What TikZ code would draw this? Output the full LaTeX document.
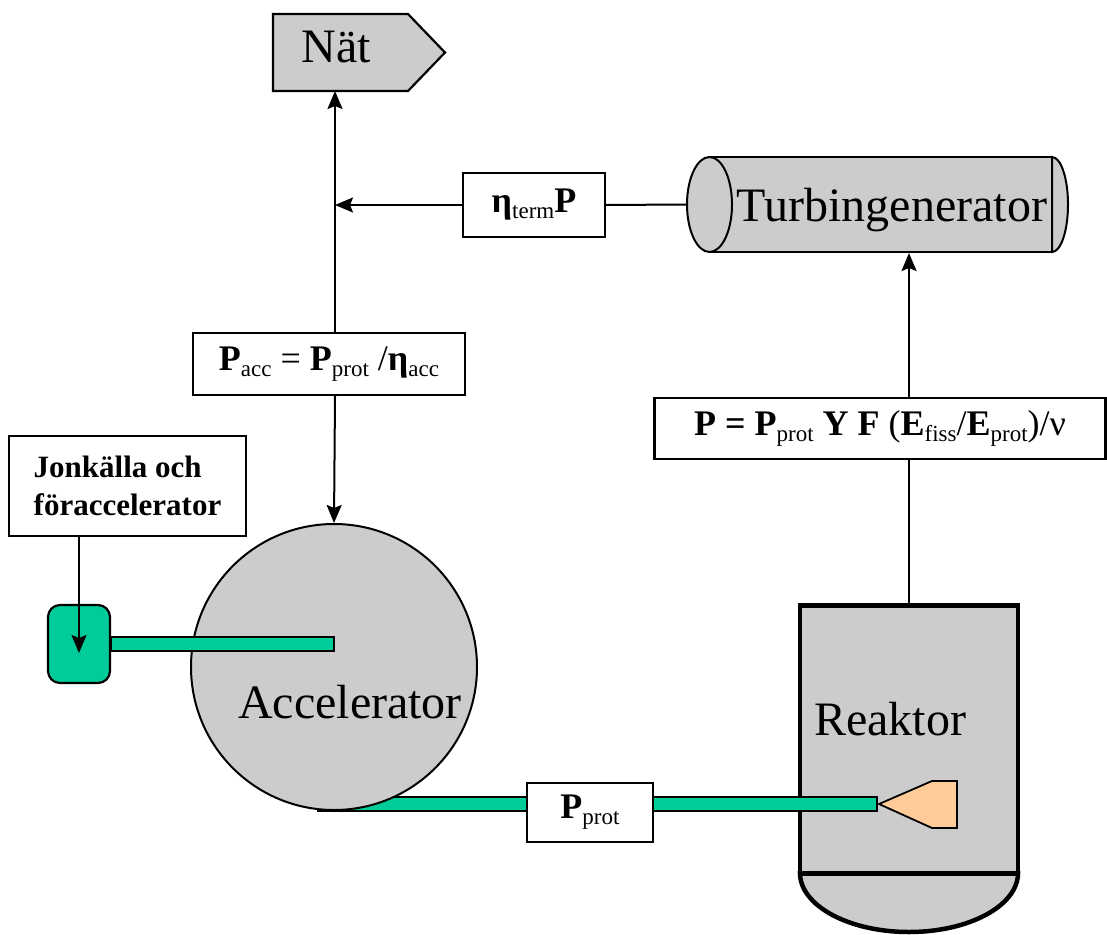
\documentclass[tikz,border=0pt]{standalone}
\usepackage{fontspec}
\setmainfont{Liberation Serif}
\usetikzlibrary{arrows.meta,shapes.geometric}
\definecolor{grayfill}{HTML}{CCCCCC}
\definecolor{beamgreen}{HTML}{00CC99}
\definecolor{targorange}{HTML}{FFCC99}
\newcommand{\lsub}[1]{\raisebox{-6pt}{\fontsize{23}{23}\selectfont\mdseries #1}}
\tikzset{
  big/.style={font=\fontsize{48}{56}\selectfont},
  frm/.style={draw, line width=2.2pt, fill=white, inner sep=0pt, font=\fontsize{36}{40}\selectfont},
  conn/.style={line width=2pt},
  arr/.style={line width=2pt, -{Stealth[length=18pt,width=15pt,inset=3pt]}},
  beamst/.style={draw, line width=2pt, fill=beamgreen},
}
\begin{document}
\begin{tikzpicture}[x=1pt,y=-1pt]
\useasboundingbox (0,0) rectangle (1107,934);

% Nat
\draw[line width=2.2pt, fill=grayfill] (273,14) -- (408,14) -- (445,52.5) -- (408,91) -- (273,91) -- cycle;
\node[big, anchor=base] (nat) at (336,63) {Nät};
\coordinate (natS) at (335,91);

% boxes
\node[frm, minimum width=272, minimum height=62] (pacc) at (329,364) {\textbf{P}\lsub{acc} = \textbf{P}\lsub{prot} /\textbf{η}\lsub{acc}};
\node[frm, minimum width=142, minimum height=64] (eta) at (534,205) {\textbf{η}\lsub{term}\textbf{P}};
\node[frm, minimum width=451, minimum height=61] (pbox) at (880,428.5) {\textbf{P = P}\lsub{prot} \textbf{Y F} (\textbf{E}\lsub{fiss}/\textbf{E}\lsub{prot})/ν};

% turbine
\node[draw, line width=2pt, fill=grayfill, minimum width=342, minimum height=95, inner sep=0pt] (turb) at (881,204.5) {};
\draw[line width=2pt, fill=grayfill] (1052,157) arc[start angle=90, end angle=-90, x radius=16pt, y radius=47.5pt] -- cycle;
\node[ellipse, draw, line width=2pt, fill=grayfill, minimum width=45, minimum height=95, inner sep=0pt] (turbL) at (709.5,204.5) {};
\node[big, anchor=base] (turbtxt) at (892,221) {Turbingenerator};

% reactor
\draw[line width=4.5pt, fill=grayfill] (800,873) arc[start angle=180, end angle=360, x radius=109pt, y radius=59pt] -- cycle;
\node[draw, line width=4.5pt, fill=grayfill, minimum width=218, minimum height=268, inner sep=0pt] (reak) at (909,739.5) {};
\node[big, anchor=base] (reaktxt) at (890,735) {Reaktor};

% ion source box
\node[draw, line width=2.2pt, fill=white, minimum width=237, minimum height=100, inner sep=0pt, align=left, font=\fontsize{31}{38}\selectfont\bfseries] (jon) at (127.5,486) {Jonkälla och\\föraccelerator};

% bottom beam, accelerator, upper beam
\draw[beamst] (318,797) rectangle (877,811);
\node[circle, draw, line width=2pt, fill=grayfill, minimum size=286, inner sep=0pt] (acc) at (334,667) {};
\node[big, anchor=base] (acctxt) at (350,718) {Accelerator};
\node[draw, line width=2.2pt, fill=beamgreen, rounded corners=12pt, minimum width=62, minimum height=78, inner sep=0pt] (src) at (79,644) {};
\draw[beamst] (src.east |- 0,637) rectangle (334,651);
\node[frm, minimum width=126, minimum height=59] (pprot) at (590,812.5) {\textbf{P}\lsub{prot}};
\draw[line width=1.8pt, fill=targorange] (879,804) -- (932,781) -- (957,781) -- (957,828) -- (932,828) -- cycle;

% connectors
\draw[arr] (pacc.north -| natS) -- (natS);
\draw[arr] (eta.west) -- (eta.west -| natS);
\draw[conn] (eta.east) -- (turbL.west);
\draw[arr] (pacc.south -| natS) -- (acc.north);
\draw[arr] (pbox.north -| reak.north) -- (reak.north |- turb.south);
\draw[conn] (reak.north) -- (pbox.south -| reak.north);
\draw[arr] (jon.south -| src.center) -- ([yshift=-9pt]src.center);
\end{tikzpicture}
\end{document}
